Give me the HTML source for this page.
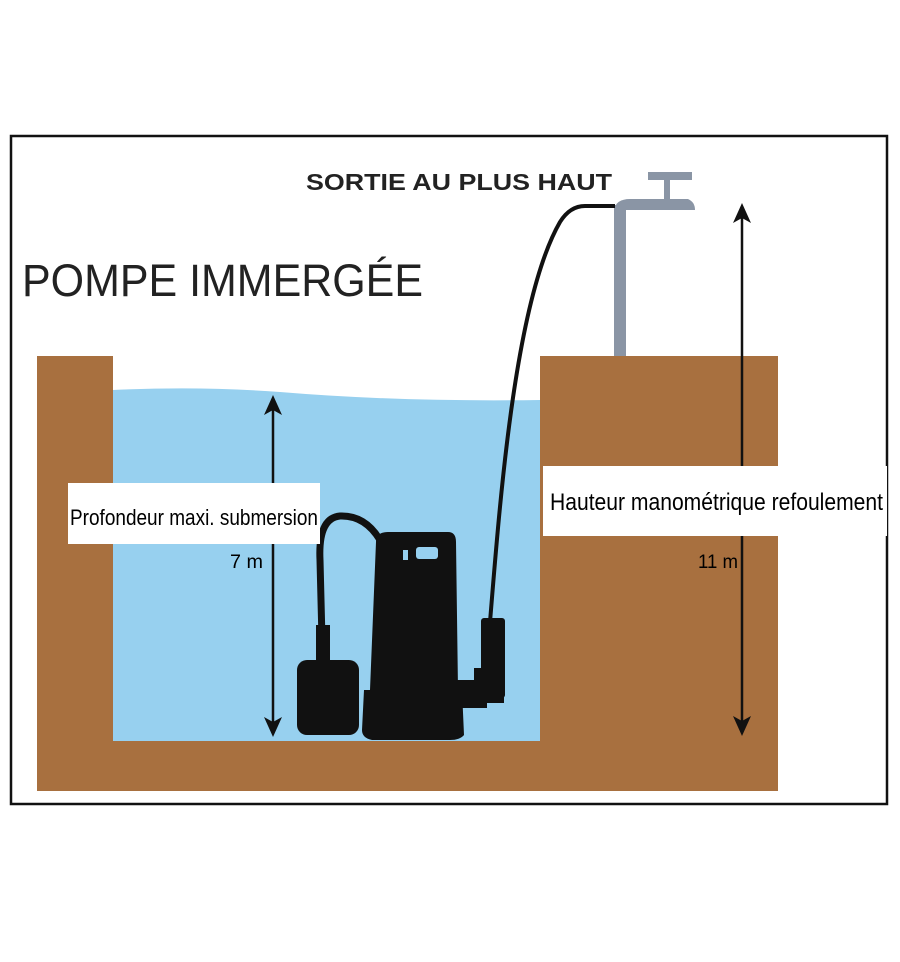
<!DOCTYPE html>
<html><head><meta charset="utf-8"><style>
html,body{margin:0;padding:0;background:#fff;}
svg{display:block;}
text{font-family:"Liberation Sans",sans-serif;}
</style></head><body>
<svg width="900" height="962" viewBox="0 0 900 962" xmlns="http://www.w3.org/2000/svg">
<rect x="0" y="0" width="900" height="962" fill="#fff"/>
<rect x="11" y="136" width="876" height="668" fill="none" stroke="#111" stroke-width="2.5"/>
<!-- ground -->
<rect x="37" y="356" width="76" height="435" fill="#a8703f"/>
<rect x="37" y="741" width="741" height="50" fill="#a8703f"/>
<rect x="540" y="356" width="238" height="435" fill="#a8703f"/>
<!-- water -->
<path d="M113 390 Q200 386 280 392 Q400 402 540 400 L540 741 L113 741 Z" fill="#97d0ef"/>
<!-- tap -->
<rect x="614" y="205" width="12" height="151" fill="#8a95a5"/>
<path d="M614 210 Q616 199 630 199 L688 199 Q695 202 695 210 L626 210 Z" fill="#8a95a5"/>
<rect x="664" y="180" width="6" height="20" fill="#8a95a5"/>
<rect x="648" y="172" width="44" height="8" fill="#8a95a5"/>
<!-- hose -->
<path d="M490 622 C500 500 515 300 560 222 Q570 206 585 206 L615 206" fill="none" stroke="#111" stroke-width="4"/>
<!-- cord -->
<path d="M380 540 Q365 515 340 516 Q318 518 320 560 L322 640" fill="none" stroke="#111" stroke-width="7"/>
<rect x="316" y="625" width="14" height="40" fill="#111"/>
<rect x="297" y="660" width="62" height="75" rx="10" fill="#111"/>
<!-- pump -->
<path d="M376 542 Q376 532 388 532 L448 532 Q456 532 456 542 L458 690 L462 690 L464 735 Q460 740 450 740 L372 740 Q362 738 362 730 L364 690 L370 690 Z" fill="#111"/>
<rect x="452" y="680" width="35" height="28" fill="#111"/>
<rect x="481" y="618" width="24" height="80" rx="3" fill="#111"/>
<rect x="474" y="668" width="30" height="35" fill="#111"/>
<rect x="416" y="547" width="22" height="12" rx="3" fill="#97d0ef"/>
<rect x="403" y="550" width="5" height="10" fill="#97d0ef"/>
<!-- arrows -->
<line x1="273" y1="408" x2="273" y2="725" stroke="#111" stroke-width="2.5"/>
<path d="M273 395 L264 415 L273 410 L282 415 Z" fill="#111"/>
<path d="M273 737 L264 717 L273 722 L282 717 Z" fill="#111"/>
<line x1="742" y1="215" x2="742" y2="724" stroke="#111" stroke-width="2.5"/>
<path d="M742 203 L733 223 L742 218 L751 223 Z" fill="#111"/>
<path d="M742 736 L733 716 L742 721 L751 716 Z" fill="#111"/>
<!-- labels -->
<rect x="68" y="483" width="252" height="61" fill="#fff"/>
<text x="70" y="525" font-size="22" textLength="248" lengthAdjust="spacingAndGlyphs">Profondeur maxi. submersion</text>
<text x="230" y="568" font-size="19" textLength="33" lengthAdjust="spacingAndGlyphs">7 m</text>
<rect x="543" y="466" width="344" height="70" fill="#fff"/>
<text x="550" y="510" font-size="24" textLength="333" lengthAdjust="spacingAndGlyphs">Hauteur manométrique refoulement</text>
<text x="698" y="568" font-size="19" textLength="40" lengthAdjust="spacingAndGlyphs">11 m</text>
<text x="306" y="190" font-size="23" font-weight="bold" fill="#222" textLength="306" lengthAdjust="spacingAndGlyphs">SORTIE  AU PLUS HAUT</text>
<text x="22" y="296" font-size="45" fill="#222" textLength="401" lengthAdjust="spacingAndGlyphs">POMPE IMMERGÉE</text>
</svg>
</body></html>
